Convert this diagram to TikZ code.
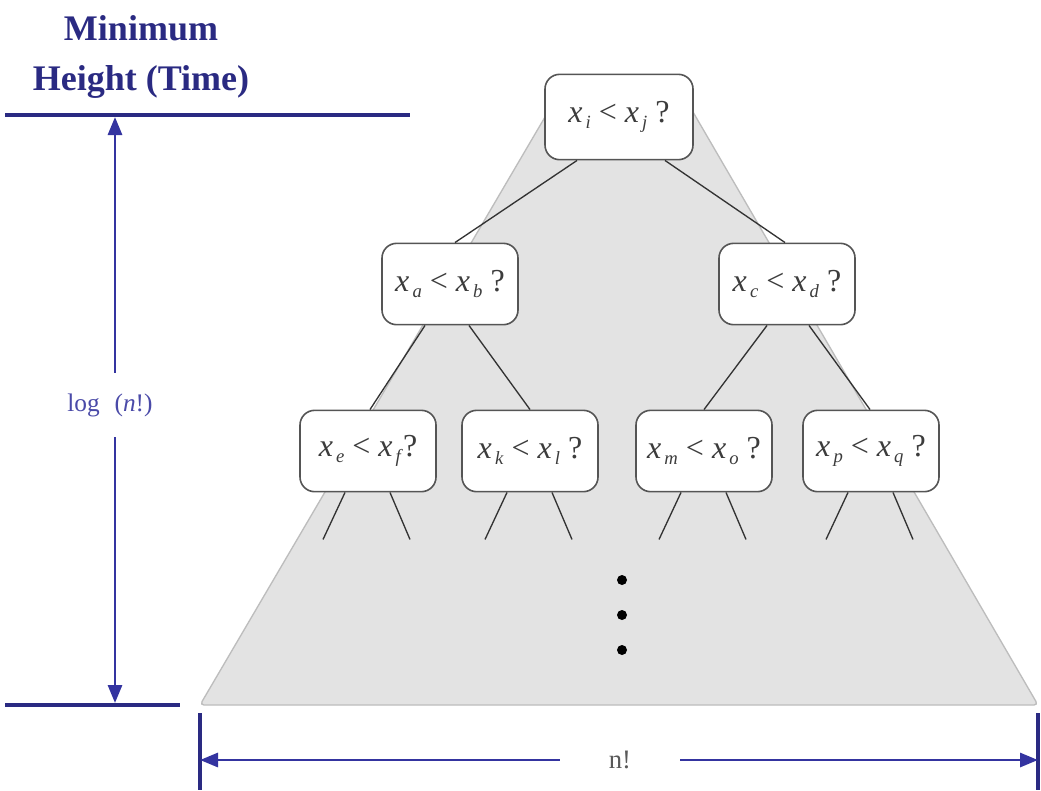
\documentclass[tikz,border=0pt]{standalone}
\usepackage{fontspec}
\setmainfont{Liberation Serif}
\usetikzlibrary{arrows.meta,calc}
\definecolor{dblue}{HTML}{2A2A82}
\definecolor{ablue}{HTML}{3434A0}
\definecolor{lblue}{HTML}{4A4AA8}
\definecolor{boxline}{HTML}{555555}
\definecolor{txtgray}{HTML}{3C3C3C}
\definecolor{trifill}{HTML}{E3E3E3}
\definecolor{triedge}{HTML}{BDBDBD}
\newcommand{\xv}[1]{\textit{x}\raisebox{-0.45ex}{\fontsize{14pt}{14pt}\selectfont\,\textit{#1}}}
\begin{document}
\begin{tikzpicture}[x=0.75pt,y=-0.75pt,
  cmp/.style={draw=boxline,line width=1.2pt,fill=white,rounded corners=11pt,
    minimum width=102pt,minimum height=61pt,inner sep=0pt,text=txtgray,
    font=\fontsize{24pt}{26pt}\selectfont},
  branch/.style={draw=black!80,line width=1pt},
  thickline/.style={draw=dblue,line width=3pt},
  dimarrow/.style={draw=ablue,line width=2.2pt,-{Triangle[length=13.5pt,width=10.5pt]}},
  dot/.style={circle,fill=black,inner sep=0pt,minimum size=7.5pt}]
\useasboundingbox (0,0) rectangle (1041,790);
\fill[white] (0,0) rectangle (1041,790);
% gray triangle (truncated top hidden by root box)
\filldraw[fill=trifill,draw=triedge,line width=1pt,rounded corners=3pt]
  (555,100) -- (686,100) -- (1038,705) -- (200,705) -- cycle;
% title
\node[font=\fontsize{27pt}{37pt}\selectfont\bfseries,text=dblue,align=center] (ttl) at (141,57) {Minimum\\Height (Time)};
% horizontal rules
\coordinate (t1) at (5,115); \coordinate (t2) at (410,115);
\coordinate (b1) at (5,705); \coordinate (b2) at (180,705);
\draw[thickline] (t1) -- (t2);
\draw[thickline] (b1) -- (b2);
% vertical dimension
\coordinate (vt) at (115,117);
\coordinate (vb) at (115,703);
\node[text=lblue,font=\fontsize{19pt}{21pt}\selectfont,minimum height=48pt,inner sep=0pt] (lg) at (110,405) {log\,\, (\textit{n}!)};
\draw[dimarrow] (lg.north -| vt) -- (vt);
\draw[dimarrow] (lg.south -| vb) -- (vb);
% bottom dimension
\coordinate (l1) at (200,713); \coordinate (l2) at (200,790);
\coordinate (r1) at (1038,713); \coordinate (r2) at (1038,790);
\draw[thickline] (l1) -- (l2);
\draw[thickline] (r1) -- (r2);
\node[text=black!65,font=\fontsize{20pt}{22pt}\selectfont,minimum width=90pt,inner sep=0pt] (nf) at (620,760) {n!};
\draw[dimarrow] (nf.west) -- (l1 |- nf.west);
\draw[dimarrow] (nf.east) -- (r1 |- nf.east);
% tree nodes
\node[cmp,minimum width=111pt,minimum height=64pt] (root) at (619,117) {\xv{i} < \xv{j} ?};
\node[cmp] (a) at (450,284) {\xv{a} < \xv{b} ?};
\node[cmp] (c) at (787,284) {\xv{c} < \xv{d} ?};
\node[cmp] (e) at (368,451) {\xv{e} < \xv{f}?};
\node[cmp] (k) at (530,451) {\xv{k} < \xv{l} ?};
\node[cmp] (m) at (704,451) {\xv{m} < \xv{o} ?};
\node[cmp] (p) at (871,451) {\xv{p} < \xv{q} ?};
% branches
\draw[branch] ($(root.south)+(-42,0)$) -- ($(a.north)+(5,0)$);
\draw[branch] ($(root.south)+(46,0)$) -- ($(c.north)+(-2,0)$);
\draw[branch] ($(a.south)+(-25,0)$) -- ($(e.north)+(2,0)$);
\draw[branch] ($(a.south)+(19,0)$) -- ($(k.north)+(0,0)$);
\draw[branch] ($(c.south)+(-20,0)$) -- ($(m.north)+(0,0)$);
\draw[branch] ($(c.south)+(22,0)$) -- ($(p.north)+(-1,0)$);
% leaf stubs
\foreach \n in {e,k,m,p}{
  \coordinate (\n L) at ($(\n.south)+(-45,47)$);
  \coordinate (\n R) at ($(\n.south)+(42,47)$);
  \draw[branch] ($(\n.south)+(-23,0)$) -- (\n L);
  \draw[branch] ($(\n.south)+(22,0)$) -- (\n R);
}
% dots
\node[dot] (d1) at (622,580) {};
\node[dot] (d2) at (622,615) {};
\node[dot] (d3) at (622,650) {};
\end{tikzpicture}
\end{document}
